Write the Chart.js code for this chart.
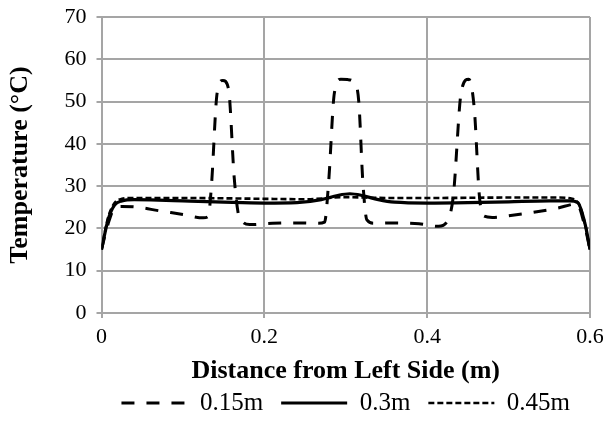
<!DOCTYPE html>
<html>
<head>
<meta charset="utf-8">
<script src="https://cdn.jsdelivr.net/npm/chart.js@4.4.1/dist/chart.umd.min.js"></script>
<style>
  html, body { margin: 0; padding: 0; background: #fff; }
  #wrap { width: 603px; height: 436px; }
</style>
</head>
<body>
<div id="wrap"><canvas id="tempChart"></canvas></div>
<script>
// readings: distance (m) and temperature (°C) per series
const dist015 = [0, 0.008, 0.016, 0.025, 0.045, 0.07, 0.1, 0.125, 0.131, 0.135, 0.142, 0.149, 0.156, 0.163, 0.168, 0.174, 0.182, 0.21, 0.24, 0.266, 0.274, 0.279, 0.286, 0.294, 0.302, 0.31, 0.316, 0.321, 0.326, 0.335, 0.36, 0.39, 0.414, 0.424, 0.432, 0.442, 0.451, 0.458, 0.464, 0.469, 0.48, 0.5, 0.53, 0.56, 0.584, 0.593, 0.6];
const temp015 = [15, 21, 24.8, 25.2, 25, 24.2, 23.3, 22.5, 22.8, 30, 52, 55, 53, 32, 23.5, 21.4, 20.9, 21.2, 21.3, 21.2, 21.5, 31, 52, 55.3, 55.2, 54.6, 50, 31, 22, 21.2, 21.3, 21.1, 20.5, 21.5, 27.5, 52.5, 55.3, 48, 28, 23, 22.6, 23, 23.8, 24.8, 25.8, 21, 15];

const dist030 = [0, 0.008, 0.016, 0.025, 0.04, 0.07, 0.1, 0.15, 0.2, 0.24, 0.27, 0.29, 0.305, 0.32, 0.34, 0.36, 0.4, 0.45, 0.5, 0.55, 0.575, 0.585, 0.594, 0.6];
const temp030 = [15, 22, 25.5, 26.5, 26.8, 26.7, 26.5, 26.2, 26, 26.1, 26.8, 27.8, 28.2, 27.8, 26.8, 26.2, 26, 26.1, 26.3, 26.5, 26.5, 26.1, 21, 15];

const dist045 = [0, 0.008, 0.016, 0.025, 0.04, 0.1, 0.2, 0.25, 0.3, 0.35, 0.4, 0.5, 0.56, 0.578, 0.587, 0.594, 0.6];
const temp045 = [15, 22.5, 26, 27, 27.2, 27.2, 27, 26.9, 27.4, 27.2, 27.2, 27.3, 27.3, 27, 25.5, 21, 15];

const seriesNames = ['0.15m', '0.3m', '0.45m'];
const xTickValues = [0, 0.2, 0.4, 0.6];
const yTickValues = [0, 10, 20, 30, 40, 50, 60, 70];

const serif = "'Liberation Serif', 'Times New Roman', serif";
const gridGray = '#a5a5a5';

function toPoints(xs, ys) {
    return xs.map((x, i) => ({ x: x, y: ys[i] }));
}

const ctx = document.getElementById('tempChart');

new Chart(ctx, {
    type: 'line',
    data: {
        datasets: [
            {
                label: seriesNames[0],
                data: toPoints(dist015, temp015),
                borderColor: '#000',
                borderWidth: 3,
                borderDash: [13, 12]
            },
            {
                label: seriesNames[1],
                data: toPoints(dist030, temp030),
                borderColor: '#000',
                borderWidth: 3.2
            },
            {
                label: seriesNames[2],
                data: toPoints(dist045, temp045),
                borderColor: '#000',
                borderWidth: 2.6,
                borderDash: [6, 3]
            }
        ]
    },
    options: {
        responsive: true,
        maintainAspectRatio: false,
        animation: false,
        cubicInterpolationMode: 'monotone',
        elements: {
            point: { radius: 0 },
            line: { fill: false }
        },
        layout: {
            padding: { top: 17, right: 13, left: 0, bottom: 10.5 }
        },
        scales: {
            x: {
                type: 'linear',
                min: 0,
                max: 0.6,
                afterFit: function (scale) {
                    scale.height = 59.5;
                    scale.paddingLeft = 0;
                    scale.paddingRight = 0;
                },
                afterBuildTicks: function (scale) {
                    scale.ticks = xTickValues.map(v => ({ value: v }));
                },
                grid: { color: gridGray, lineWidth: 2, tickLength: 5 },
                border: { color: gridGray, width: 2 },
                ticks: {
                    color: '#000',
                    padding: 6,
                    maxRotation: 0,
                    font: { family: serif, size: 22 },
                    callback: v => String(v)
                },
                title: {
                    display: true,
                    text: 'Distance from Left Side (m)',
                    color: '#000',
                    font: { family: serif, size: 26, weight: 'bold' },
                    padding: { top: 0, bottom: -14 }
                }
            },
            y: {
                min: 0,
                max: 70,
                afterFit: function (scale) {
                    scale.width = 101.5;
                    scale.paddingTop = 0;
                    scale.paddingBottom = 0;
                },
                afterBuildTicks: function (scale) {
                    scale.ticks = yTickValues.map(v => ({ value: v }));
                },
                grid: { color: gridGray, lineWidth: 2, tickLength: 5 },
                border: { color: gridGray, width: 2 },
                ticks: {
                    color: '#000',
                    padding: 10,
                    font: { family: serif, size: 22 }
                },
                title: {
                    display: true,
                    text: 'Temperature (°C)',
                    color: '#000',
                    font: { family: serif, size: 26, weight: 'bold' },
                    padding: { top: 5, bottom: 0 }
                }
            }
        },
        plugins: {
            legend: {
                position: 'bottom',
                fullSize: false,
                labels: {
                    color: '#000',
                    font: { family: serif, size: 25 },
                    usePointStyle: true,
                    pointStyle: 'line',
                    pointStyleWidth: 66,
                    padding: 18,
                    generateLabels: function (chart) {
                        return chart.data.datasets.map((ds, i) => ({
                            text: ds.label,
                            datasetIndex: i,
                            fillStyle: ds.borderColor,
                            strokeStyle: ds.borderColor,
                            fontColor: '#000',
                            lineWidth: ds.borderWidth,
                            lineDash: ds.borderDash || [],
                            pointStyle: 'line',
                            hidden: false
                        }));
                    }
                }
            },
            tooltip: { enabled: false }
        }
    }
});
</script>
</body>
</html>
